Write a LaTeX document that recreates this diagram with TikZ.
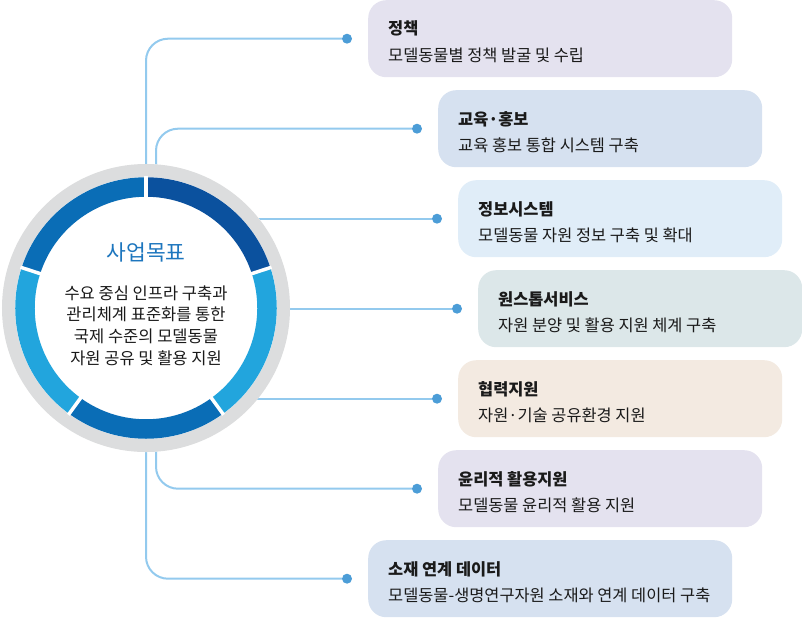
\documentclass[tikz,border=0pt]{standalone}
\usepackage{fontspec}
\setmainfont{Noto Sans CJK KR}
\usetikzlibrary{calc}
\definecolor{linec}{HTML}{93CAEE}
\definecolor{dotc}{HTML}{4C9DD7}
\definecolor{ringgray}{HTML}{DCDDDE}
\definecolor{segdark}{HTML}{0B519E}
\definecolor{segmid}{HTML}{0A6DB6}
\definecolor{seglight}{HTML}{22A5DD}
\definecolor{goalblue}{HTML}{1D76BE}
\definecolor{txt}{HTML}{1A1A1A}
\definecolor{boxA}{HTML}{E4E2EF}
\definecolor{boxB}{HTML}{D6E1F0}
\definecolor{boxC}{HTML}{E0EDF8}
\definecolor{boxD}{HTML}{DCE7E9}
\definecolor{boxE}{HTML}{F3EAE1}
\tikzset{
  card/.style={rectangle, rounded corners=18pt, anchor=north west, minimum height=77pt, inner sep=0pt, draw=none},
  cardtitle/.style={anchor=base west, inner sep=0pt, text=txt, font=\fontsize{16.4pt}{20pt}\selectfont\bfseries},
  cardsub/.style={anchor=base west, inner sep=0pt, text=txt, font=\fontsize{16.4pt}{20pt}\selectfont},
  goalline/.style={anchor=base, inner sep=0pt, text=txt, font=\fontsize{16.5pt}{20pt}\selectfont},
  dot/.style={circle, fill=dotc, inner sep=0pt, minimum size=10pt},
  conn/.style={draw=linec, line width=2pt, rounded corners=22pt},
}
\begin{document}
\begin{tikzpicture}[x=1pt,y=-1pt]
\useasboundingbox (0,0) rectangle (802,618);
% cards
\node[card, fill=boxA, minimum width=364pt] (b1) at (368,0) {};
\node[card, fill=boxB, minimum width=324pt] (b2) at (438,90) {};
\node[card, fill=boxC, minimum width=324pt] (b3) at (458,180) {};
\node[card, fill=boxD, minimum width=324pt] (b4) at (478,270) {};
\node[card, fill=boxE, minimum width=324pt] (b5) at (458,360) {};
\node[card, fill=boxA, minimum width=324pt] (b6) at (438,450) {};
\node[card, fill=boxB, minimum width=364pt] (b7) at (368,540) {};
% card texts
\node[cardtitle] (h1) at ($(b1.north west)+(20,35)$) {정책};
\node[cardsub]   (s1) at ($(b1.north west)+(20,61)$) {모델동물별 정책 발굴 및 수립};
\node[cardtitle] (h2) at ($(b2.north west)+(20,35)$) {교육·홍보};
\node[cardsub]   (s2) at ($(b2.north west)+(20,61)$) {교육 홍보 통합 시스템 구축};
\node[cardtitle] (h3) at ($(b3.north west)+(20,35)$) {정보시스템};
\node[cardsub]   (s3) at ($(b3.north west)+(20,61)$) {모델동물 자원 정보 구축 및 확대};
\node[cardtitle] (h4) at ($(b4.north west)+(20,35)$) {원스톱서비스};
\node[cardsub]   (s4) at ($(b4.north west)+(20,61)$) {자원 분양 및 활용 지원 체계 구축};
\node[cardtitle] (h5) at ($(b5.north west)+(20,35)$) {협력지원};
\node[cardsub]   (s5) at ($(b5.north west)+(20,61)$) {자원·기술 공유환경 지원};
\node[cardtitle] (h6) at ($(b6.north west)+(20,35)$) {윤리적 활용지원};
\node[cardsub]   (s6) at ($(b6.north west)+(20,61)$) {모델동물 윤리적 활용 지원};
\node[cardtitle] (h7) at ($(b7.north west)+(20,35)$) {소재 연계 데이터};
\node[cardsub]   (s7) at ($(b7.north west)+(20,61)$) {모델동물-생명연구자원 소재와 연계 데이터 구축};
% dots
\node[dot] (d1) at ($(b1.west)+(-21,0)$) {};
\node[dot] (d2) at ($(b2.west)+(-21,0)$) {};
\node[dot] (d3) at ($(b3.west)+(-21,0)$) {};
\node[dot] (d4) at ($(b4.west)+(-21,0)$) {};
\node[dot] (d5) at ($(b5.west)+(-21,0)$) {};
\node[dot] (d6) at ($(b6.west)+(-21,0)$) {};
\node[dot] (d7) at ($(b7.west)+(-21,0)$) {};
% hub
\coordinate (c) at (146,308);
\coordinate (c2) at (156,308);
\draw[conn] (c) |- (d1);
\draw[conn] (c2) |- (d2);
\draw[conn] (c |- d3) -- (d3);
\draw[conn] (c |- d4) -- (d4);
\draw[conn] (c |- d5) -- (d5);
\draw[conn] (c2) |- (d6);
\draw[conn] (c) |- (d7);
% circle
\fill[white] (c) circle[radius=144];
\draw[ringgray, line width=13pt] (c) circle[radius=137.5];
\foreach \a/\b/\col in {90/18/segdark, 18/-54/seglight, -54/-126/segmid, -126/-198/seglight, 162/90/segmid}{
  \draw[\col, line width=19.5pt] ($(c)+(-\a:121)$) arc[start angle=-\a, end angle=-\b, radius=121];
}
\foreach \a in {90,18,-54,-126,162}{
  \draw[white, line width=3.5pt] ($(c)+(-\a:105)$) -- ($(c)+(-\a:132)$);
}
\node[circle, minimum size=288pt, inner sep=0pt] (hub) at (c) {};
\node[anchor=base, inner sep=0pt, text=goalblue, font=\fontsize{21.5pt}{24pt}\selectfont] (goal) at (146,260.5) {사업목표};
\node[goalline] (g1) at (146,299) {수요 중심 인프라 구축과};
\node[goalline] (g2) at (146,320.7) {관리체계 표준화를 통한};
\node[goalline] (g3) at (146,342.3) {국제 수준의 모델동물};
\node[goalline] (g4) at (146,364) {자원 공유 및 활용 지원};
\end{tikzpicture}
\end{document}
